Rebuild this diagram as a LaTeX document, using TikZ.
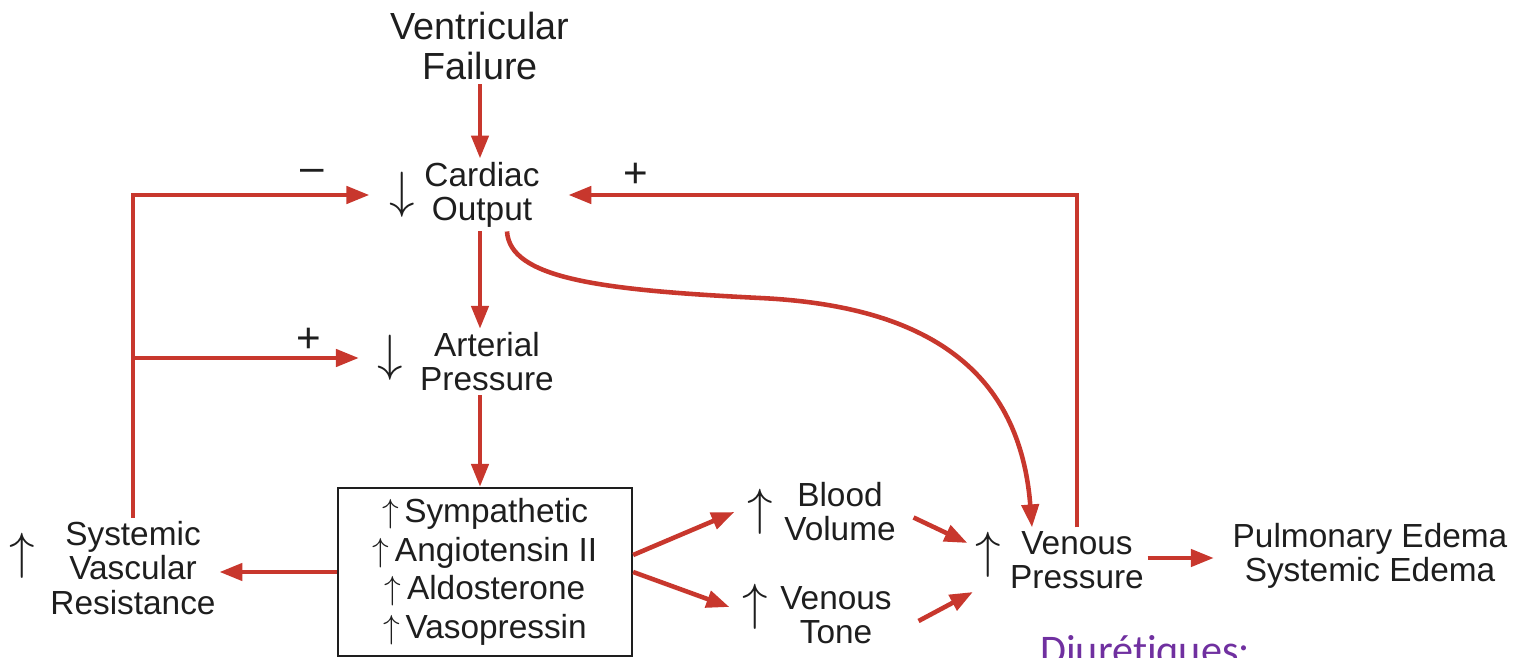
\documentclass[tikz,border=0pt]{standalone}
\usepackage{fix-cm}
\usepackage{fontspec}
\setmainfont{Liberation Sans}
\newfontfamily\notefont[Ligatures=NoCommon]{Carlito}
\usetikzlibrary{arrows.meta,positioning,calc}
\definecolor{flowred}{HTML}{C8372D}
\definecolor{notepurple}{HTML}{7030A0}
\definecolor{ink}{HTML}{1E1E1E}

\begin{document}
\begin{tikzpicture}[
  x=0.02cm, y=-0.02cm,
  font=\fontsize{19}{19.4}\selectfont, text=ink,
  >={Triangle[length=4.6mm,width=3.4mm]},
  lbl/.style={align=center, inner sep=2pt},
  big/.style={lbl, font=\fontsize{21.5}{23.3}\selectfont},
  glyph/.style={inner sep=0pt, font=\fontsize{29}{29}\selectfont},
  sign/.style={inner sep=0pt, font=\fontsize{24}{24}\selectfont},
  hbox/.style={draw=ink, line width=1.3pt, align=center, minimum width=5.88cm, minimum height=3.36cm,
    font=\fontsize{19}{22}\selectfont},
  flow/.style={->, flowred, line width=2.6pt},
]
\useasboundingbox (0,0) rectangle (1516,658);

% ---------------- nodes ----------------
\node[big] (vf) at (480,46) {Ventricular\\Failure};
\node[lbl] (co) at (482,195) {Cardiac\\Output};
\node[glyph] (codn) at (402,195) {$\downarrow$};
\node[lbl] (ap) at (487,362) {Arterial\\Pressure};
\node[glyph] (apdn) at (390,358) {$\downarrow$};
\node[hbox] (hormones) at (485,572)
  {$\uparrow$\,Sympathetic\\$\uparrow$\,Angiotensin II\\$\uparrow$\,Aldosterone\\$\uparrow$\,Vasopressin};
\node[lbl] (svr) at (133,568) {Systemic\\Vascular\\Resistance};
\node[glyph] (svrup) at (22,556) {$\uparrow$};
\node[lbl] (bv) at (840,512) {Blood\\Volume};
\node[glyph] (bvup) at (760,512) {$\uparrow$};
\node[lbl] (vt) at (836,615) {Venous\\Tone};
\node[glyph] (vtup) at (755,607) {$\uparrow$};
\node[lbl] (vp) at (1077,560) {Venous\\Pressure};
\node[glyph] (vpup) at (988,555) {$\uparrow$};
\node[lbl] (edema) at (1370,556) {Pulmonary Edema\\Systemic Edema};

\node[sign] (minus) at (312,175) {–};
\node[sign] (plusap) at (309,340) {+};
\node[sign] (plusco) at (636,175) {+};

\node[anchor=base west, inner sep=0pt, text=notepurple, font=\notefont\fontsize{24}{24}\selectfont]
  (diur) at (1040,664) {Diurétiques:};

% ---------------- main chain ----------------
\draw[flow] (vf.south -| 480,0) -- (co.north -| 480,0);
\draw[flow] (co.south -| 480,0) -- (ap.north -| 480,0);
\draw[flow] (ap.south -| 480,0) -- (hormones.north -| 480,0);
\draw[flow] (hormones.west) -- (hormones.west -| svr.east);
\draw[flow] ([yshift=3.4mm]hormones.east) -- ([xshift=-2.5mm]bvup.west);
\draw[flow] (hormones.east) -- ([xshift=-2.5mm]vtup.west);
\draw[flow] ([xshift=2.8mm,yshift=-1.1mm]bv.east) -- ([xshift=-1.5mm,yshift=2.4mm]vpup.west);
\draw[flow] ([xshift=4.6mm,yshift=-1.2mm]vt.east) -- ([xshift=-0.4mm,yshift=-7.4mm]vpup.west);
\draw[flow] ([yshift=0.04cm]vp.east) -- ([xshift=-3mm,yshift=0.04cm]vp.east -| edema.west);

% ---------------- feedback loops ----------------
\draw[flow] (svr.north) |- ([xshift=-3.9mm]codn.west);
\draw[flow] (svr.north |- apdn.west) -- ([xshift=-3.6mm]apdn.west);
\draw[flow] (vp.north) |- ([xshift=5mm]co.east);
\draw[flow] ([xshift=5mm]co.south) .. controls +(3,47) and +(-160,-8) .. (760,298)
  .. controls +(170,8) and +(-12,-155) .. ([xshift=-9mm]vp.north);
\end{tikzpicture}
\end{document}
